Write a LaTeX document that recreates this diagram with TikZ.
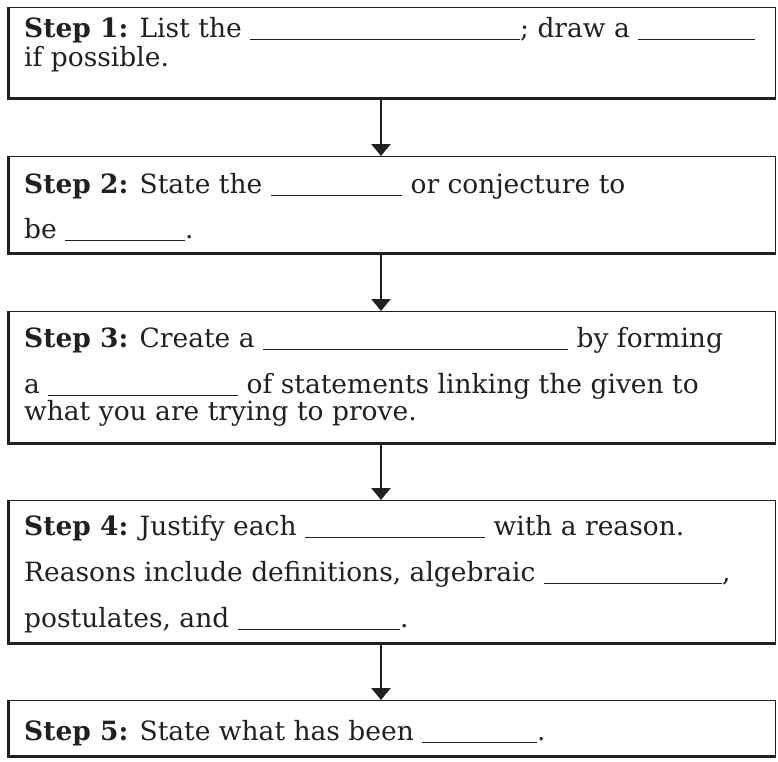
\documentclass[tikz,border=0pt]{standalone}
\usepackage{fontspec}
\setmainfont{DejaVu Serif}
\usetikzlibrary{arrows.meta}
\definecolor{ink}{HTML}{231F20}
% text followed by an answer blank, the whole run being #1 pt wide
\newcommand\fillto[2]{\makebox[#1pt][l]{#2\leaders\hrule height -1.8pt depth 3pt\hfill}}
\begin{document}
\begin{tikzpicture}[x=1pt,y=-1pt,
  stepbox/.style={draw=ink, line width=1.4pt, minimum width=767pt,
    inner sep=0pt, anchor=north west},
  shade/.style={draw=ink, line width=3pt, line join=miter},
  txt/.style={anchor=base west, inner sep=0pt, text=ink,
    font=\fontsize{26.5}{32}\selectfont},
  flow/.style={draw=ink, line width=2.4pt,
    -{Triangle[width=19pt,length=12pt]}}]
\useasboundingbox (0,0) rectangle (778,761);

% boxes
\node[stepbox, minimum height=90pt]  (s1) at (8,7)   {};
\node[stepbox, minimum height=96pt]  (s2) at (8,156) {};
\node[stepbox, minimum height=131pt] (s3) at (8,311) {};
\node[stepbox, minimum height=142pt] (s4) at (8,500) {};
\node[stepbox, minimum height=55pt]  (s5) at (8,700) {};

% heavier left and bottom edges
\foreach \b in {s1,s2,s3,s4,s5}
  \draw[shade] (\b.north west) -- (\b.south west) -- (\b.south east);

% connectors
\coordinate (ax) at (381,0);
\draw[flow] (s1.south -| ax) -- (s2.north -| ax);
\draw[flow] (s2.south -| ax) -- (s3.north -| ax);
\draw[flow] (s3.south -| ax) -- (s4.north -| ax);
\draw[flow] (s4.south -| ax) -- (s5.north -| ax);

% texts
\node[txt] (t11) at (24,37)  {\fillto{496}{\textbf{Step 1:} List the }\fillto{235}{; draw a }};
\node[txt] (t12) at (24,66)  {if possible.};
\node[txt] (t21) at (24,193) {\fillto{378}{\textbf{Step 2:} State the } or conjecture to};
\node[txt] (t22) at (24,238) {\fillto{161}{be }.};
\node[txt] (t31) at (24,347) {\fillto{544}{\textbf{Step 3:} Create a } by forming};
\node[txt] (t32) at (24,393) {\fillto{214}{a } of statements linking the given to};
\node[txt] (t33) at (24,420) {what you are trying to prove.};
\node[txt] (t41) at (24,535) {\fillto{461}{\textbf{Step 4:} Justify each } with a reason.};
\node[txt] (t42) at (24,581) {\fillto{698}{Reasons include definitions, algebraic },};
\node[txt] (t43) at (24,627) {\fillto{376}{postulates, and }.};
\node[txt] (t51) at (24,740) {\fillto{513}{\textbf{Step 5:} State what has been }.};
\end{tikzpicture}
\end{document}
